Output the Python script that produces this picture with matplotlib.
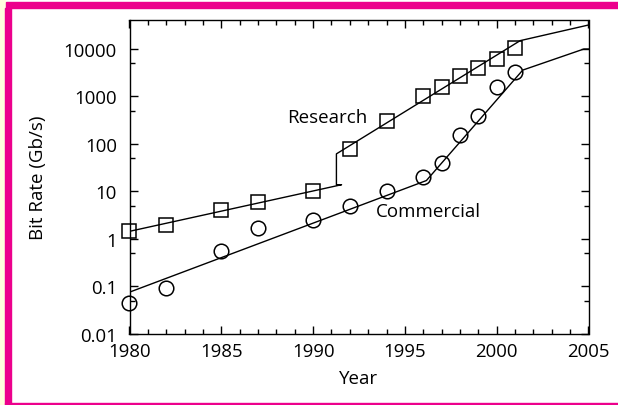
import matplotlib
matplotlib.use("Agg")
import matplotlib.pyplot as plt
from matplotlib.patches import Rectangle
from matplotlib.ticker import FixedLocator, FuncFormatter, MultipleLocator

plt.rcParams["font.family"] = ["Open Sans", "DejaVu Sans"]

# measured points
research_year = [1980, 1982, 1985, 1987, 1990, 1992, 1994, 1996, 1997, 1998, 1999, 2000, 2001]
research_rate = [1.5, 2.0, 4.0, 6.0, 10, 80, 310, 1000, 1560, 2660, 3930, 6200, 10500]
commercial_year = [1980, 1982, 1985, 1987, 1990, 1992, 1994, 1996, 1997, 1998, 1999, 2000, 2001]
commercial_rate = [0.045, 0.092, 0.57, 1.7, 2.5, 5.0, 10, 20, 40, 157, 395, 1560, 3240]

# trend lines (piecewise)
research_fit_year = [1980, 1991.55, 1991.27, 1991.27, 2001.28, 2005]
research_fit_rate = [1.45, 13.9, 13.9, 62, 15000, 32000]
commercial_fit_year = [1980, 1996.17, 2001.42, 2004.75, 2005]
commercial_fit_rate = [0.076, 17, 3600, 10000, 10000]

W, H = 618, 406
fig = plt.figure(figsize=(W / 100, H / 100), dpi=100)

# page frame decorations
PINK = "#ec008c"
YEL = "#ffffdd"
fig.patches.append(Rectangle((0, 0), 5 / W, 1, transform=fig.transFigure, color=YEL, zorder=0))
fig.patches.append(Rectangle((5 / W, 0), 6 / W, (H - 9) / H, transform=fig.transFigure, color=PINK, zorder=1))
fig.patches.append(Rectangle((6 / W, (H - 9) / H), 1, 6 / H, transform=fig.transFigure, color=PINK, zorder=1))
fig.patches.append(Rectangle((5 / W, 1 / H), 1, 1.5 / H, transform=fig.transFigure, color=PINK, zorder=1))

x0, x1 = 129.5, 588.5
y_top, y_bot = 21.4, 335
ax = fig.add_axes([x0 / W, 1 - y_bot / H, (x1 - x0) / W, (y_bot - y_top) / H])

ax.plot(research_fit_year, research_fit_rate, color="black", lw=1.0)
ax.plot(commercial_fit_year, commercial_fit_rate, color="black", lw=1.0)
ax.plot(research_year, research_rate, ls="none", marker="s", ms=9.5,
        mfc="none", mec="black", mew=1.1, clip_on=False)
ax.plot(commercial_year, commercial_rate, ls="none", marker="o", ms=10.5,
        mfc="none", mec="black", mew=1.1, clip_on=False)

ax.text(1988.6, 370, "Research", fontsize=13.5, va="center", ha="left")
ax.text(1993.4, 3.9, "Commercial", fontsize=13.5, va="center", ha="left")

ax.set_yscale("log")
ax.set_xlim(1980, 2005)
ax.set_ylim(0.01, 40000)
ax.xaxis.set_major_locator(MultipleLocator(5))
ax.xaxis.set_minor_locator(MultipleLocator(1))
ax.yaxis.set_major_locator(FixedLocator([0.01, 0.1, 1, 10, 100, 1000, 10000]))
ax.yaxis.set_minor_locator(FixedLocator([0.05, 0.5, 5, 50, 500, 5000]))
ax.yaxis.set_major_formatter(FuncFormatter(lambda v, p: f"{v:g}"))
ax.tick_params(which="both", direction="in", top=True, right=True,
               labelsize=13.4, width=1.0)
ax.tick_params(axis="y", pad=9)
ax.tick_params(axis="x", pad=6)
ax.tick_params(which="major", length=6)
ax.tick_params(which="minor", length=3.5)
for s in ax.spines.values():
    s.set_linewidth(1.0)

ax.set_xlabel("Year", fontsize=13.5, labelpad=6)
ax.set_ylabel("Bit Rate (Gb/s)", fontsize=13.5, labelpad=12)

fig.savefig("out.png", dpi=100)
